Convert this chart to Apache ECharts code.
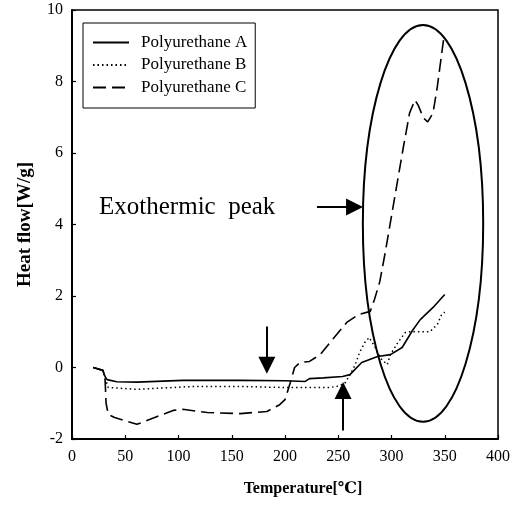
<!DOCTYPE html>
<html>
<head>
<meta charset="utf-8">
<script src="https://cdn.jsdelivr.net/npm/echarts@6/dist/echarts.min.js"></script>
<style>
html,body{margin:0;padding:0;background:#fff;}
#chart{width:514px;height:507px;}
</style>
</head>
<body>
<div id="chart"></div>
<script>
// ---- data ----
var seriesNames = ['Polyurethane A', 'Polyurethane B', 'Polyurethane C'];

var aTemp = [20, 29, 31, 33, 42, 61, 104, 158, 200, 219, 223, 236, 254, 261, 272, 287, 299, 310, 320, 327, 339, 350];
var aHeat = [0, -0.08, -0.25, -0.34, -0.40, -0.41, -0.36, -0.36, -0.37, -0.39, -0.31, -0.29, -0.25, -0.2, 0.14, 0.31, 0.36, 0.56, 1.05, 1.34, 1.68, 2.04];

var bTemp = [20, 29, 31, 34, 61, 114, 158, 200, 242, 250, 256, 261, 266, 270, 275, 279, 284, 290, 296, 299, 306, 313, 317, 327, 336, 343, 347, 350];
var bHeat = [0, -0.08, -0.3, -0.56, -0.61, -0.53, -0.53, -0.56, -0.56, -0.52, -0.45, -0.2, 0.08, 0.42, 0.7, 0.84, 0.6, 0.25, 0.08, 0.36, 0.7, 0.98, 1.0, 1.0, 1.0, 1.2, 1.48, 1.55];

var cTemp = [20, 29, 31, 32, 34, 40, 61, 80, 95, 104, 127, 158, 183, 195, 200, 205, 209, 214, 223, 233, 245, 258, 269, 280, 284, 289, 294, 311, 317, 322, 325, 330, 334, 339, 343, 349];
var cHeat = [0, -0.08, -0.3, -1.0, -1.31, -1.4, -1.59, -1.37, -1.2, -1.17, -1.26, -1.29, -1.23, -1.04, -0.9, -0.42, 0, 0.14, 0.17, 0.36, 0.8, 1.26, 1.48, 1.57, 1.9, 2.4, 3.2, 6.14, 7.12, 7.48, 7.34, 6.98, 6.87, 7.12, 7.85, 9.2];

var xTicks = {min: 0, max: 400, step: 50};
var yTicks = {min: -2, max: 10, step: 2};

// annotation arrows: tail point and arrow-head centre (data units)
var arrowTail = [[183, 1.15], [254.5, -1.76], [230, 4.49]];
var arrowHead = [[183, 0.06], [254.5, -0.64], [265.3, 4.49]];

// exothermic region ellipse (data units): centre, half-width, half-height
var ellipseCenter = [329.6, 4.03];
var ellipseHalf = [56.5, 5.55];

var annotationText = 'Exothermic  peak';
var annotationAt = [25.4, 4.49];

// ---- chart ----
var FONT = '"Liberation Serif", "Times New Roman", "DejaVu Serif", serif';
function pairs(xs, ys) { return xs.map(function (x, i) { return [x, ys[i]]; }); }

var chart = echarts.init(document.getElementById('chart'), null, {renderer: 'canvas'});

var arrowData = arrowTail.map(function (t, i) {
  return [{coord: t}, {coord: arrowHead[i]}];
});

var axisCommon = {
  type: 'value',
  axisLine: {show: true, onZero: false, lineStyle: {color: '#000', width: 2}},
  axisTick: {show: true, inside: true, length: 4, lineStyle: {color: '#000', width: 1.2}},
  splitLine: {show: false},
  axisLabel: {color: '#000', fontFamily: FONT, fontSize: 16},
  nameLocation: 'middle'
};

var option = {
  animation: false,
  backgroundColor: '#fff',
  grid: {left: 72, right: 16, top: 10, bottom: 68, show: true, borderColor: '#000', borderWidth: 1.5, backgroundColor: 'transparent'},
  xAxis: Object.assign({}, axisCommon, {
    min: xTicks.min, max: xTicks.max, interval: xTicks.step,
    name: 'Temperature[℃]', nameGap: 42,
    nameTextStyle: {color: '#000', fontFamily: FONT, fontSize: 16, fontWeight: 'bold', padding: [0, 0, 0, 36]},
    axisLabel: Object.assign({}, axisCommon.axisLabel, {margin: 10})
  }),
  yAxis: Object.assign({}, axisCommon, {
    min: yTicks.min, max: yTicks.max, interval: yTicks.step,
    name: 'Heat flow[W/g]', nameGap: 37,
    nameTextStyle: {color: '#000', fontFamily: FONT, fontSize: 19, fontWeight: 'bold'},
    axisLabel: Object.assign({}, axisCommon.axisLabel, {margin: 9})
  }),
  legend: {
    left: 83, top: 23, orient: 'vertical',
    padding: [11, 8, 12, 9],
    itemWidth: 36, itemHeight: 14, itemGap: 5.5,
    borderColor: '#000', borderWidth: 1,
    itemStyle: {opacity: 0, borderWidth: 0},
    textStyle: {color: '#000', fontFamily: FONT, fontSize: 17, padding: [0, 0, 0, 7]},
    data: seriesNames
  },
  series: [
    {
      name: seriesNames[0], type: 'line', data: pairs(aTemp, aHeat),
      symbol: 'none', showSymbol: false,
      lineStyle: {color: '#000', width: 1.6, type: 'solid'},
      itemStyle: {color: '#000'},
      markLine: {
        silent: true, symbol: ['none', 'triangle'], symbolSize: 17,
        label: {show: false},
        lineStyle: {color: '#000', width: 2, type: 'solid'},
        itemStyle: {color: '#000'},
        data: arrowData
      }
    },
    {
      name: seriesNames[1], type: 'line', data: pairs(bTemp, bHeat),
      symbol: 'none', showSymbol: false,
      lineStyle: {color: '#000', width: 1.5, type: [1.5, 3]},
      itemStyle: {color: '#000'}
    },
    {
      name: seriesNames[2], type: 'line', data: pairs(cTemp, cHeat),
      symbol: 'none', showSymbol: false,
      lineStyle: {color: '#000', width: 1.6, type: [13, 6]},
      itemStyle: {color: '#000'}
    }
  ]
};

chart.setOption(option);

var c = chart.convertToPixel({gridIndex: 0}, ellipseCenter);
var e = chart.convertToPixel({gridIndex: 0}, [ellipseCenter[0] + ellipseHalf[0], ellipseCenter[1] + ellipseHalf[1]]);
var t = chart.convertToPixel({gridIndex: 0}, annotationAt);

chart.setOption({
  graphic: [
    {
      type: 'ellipse', z: 100, silent: true,
      shape: {cx: c[0], cy: c[1], rx: Math.abs(e[0] - c[0]), ry: Math.abs(c[1] - e[1])},
      style: {fill: null, stroke: '#000', lineWidth: 2}
    },
    {
      type: 'text', z: 100, silent: true,
      x: t[0], y: t[1],
      style: {text: annotationText, fill: '#000', font: '25px ' + FONT, textAlign: 'left', textVerticalAlign: 'middle'}
    }
  ]
});
</script>
</body>
</html>
